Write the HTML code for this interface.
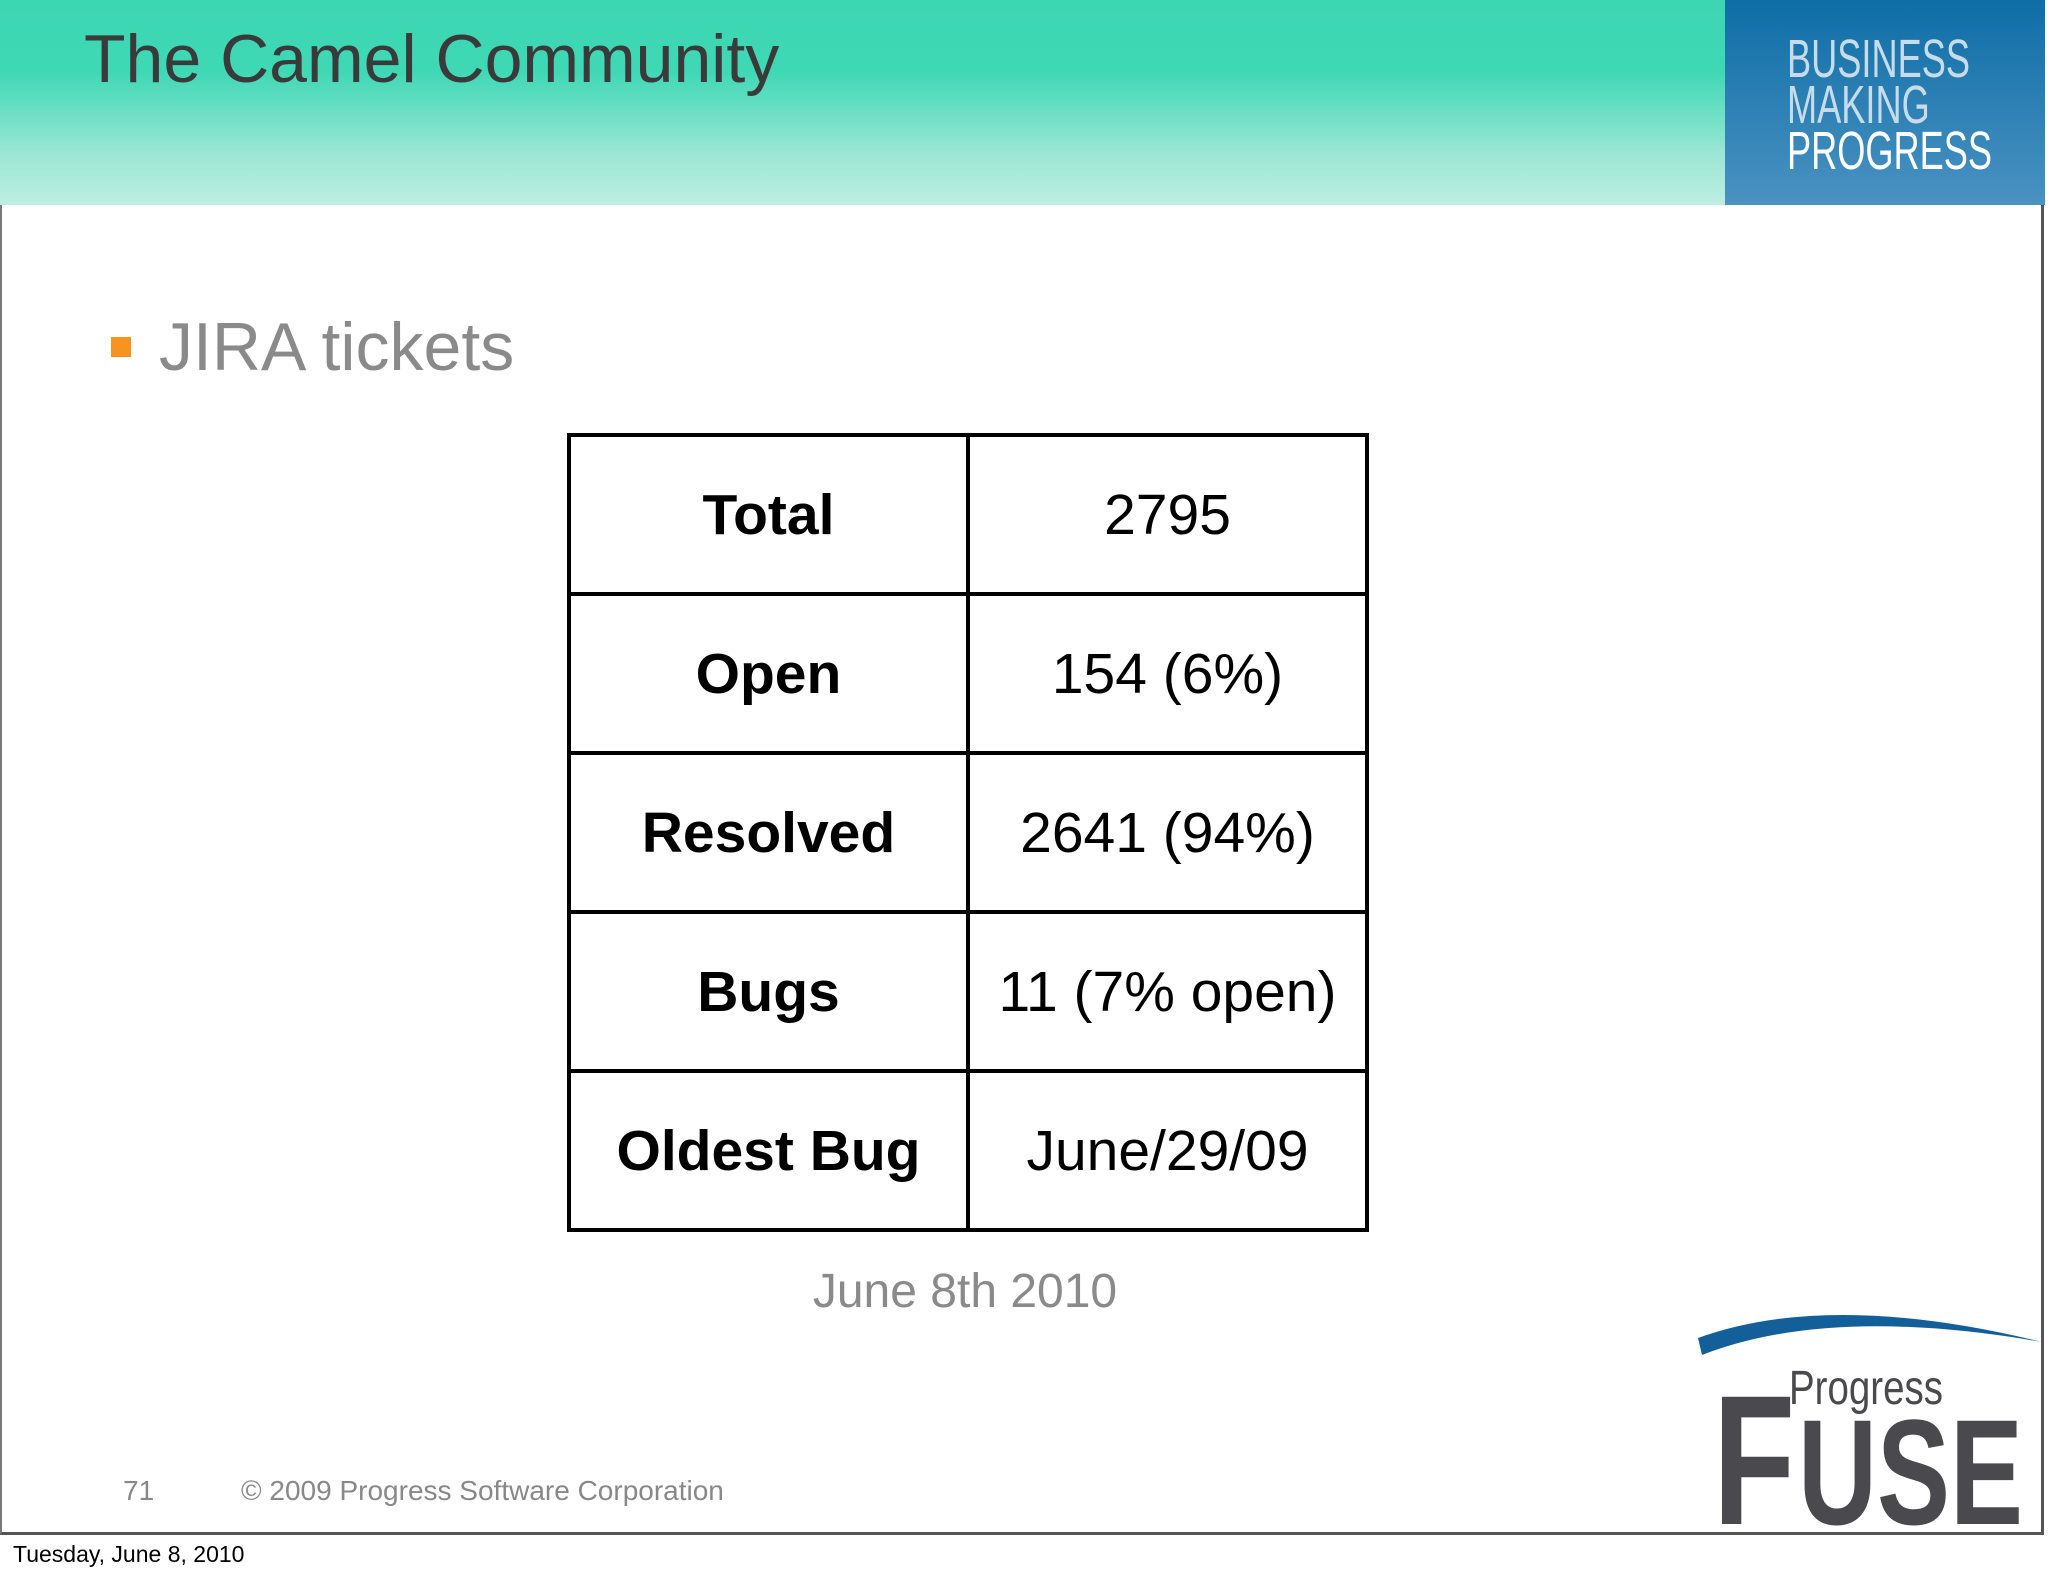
<!DOCTYPE html>
<html><head><meta charset="utf-8"><style>
body{margin:0;width:2048px;height:1576px;background:#fff;position:relative;overflow:hidden;font-family:"Liberation Sans",Arial,sans-serif}
.abs{position:absolute}
#slide{left:0;top:0;width:2044px;height:1535px;border-right:3px solid #555;border-bottom:3px solid #555;border-left:2px solid #777;box-sizing:border-box}
#band{left:0;top:0;width:1725px;height:205px;background:linear-gradient(#3dd6b3 0%,#3fd8b5 35%,#9ce6d4 75%,#bdeee2 100%)}
#blue{left:1725px;top:0;width:320px;height:205px;background:linear-gradient(#0e6ea6,#4a92c2)}
table{border-collapse:collapse;position:absolute;left:567px;top:433px;width:802px}
td{border:4px solid #000;height:155px;text-align:center;font-size:57px;width:50%;padding:0}
td.l{font-weight:bold}
</style></head><body>
<div class="abs" id="slide"></div>
<div class="abs" id="band"></div>
<div class="abs" id="blue">
 <div class="abs" style="left:62px;top:36px;color:#c7dcea;font-family:'Liberation Sans',sans-serif;font-size:54px;line-height:46px;transform:scaleX(0.67);transform-origin:left">BUSINESS<br>MAKING<br><span style="color:#fff">PROGRESS</span></div>
</div>
<div class="abs" style="left:84px;top:20px;font-size:68px;color:#3a3a3a">The Camel Community</div>
<div class="abs" style="left:111px;top:337px;width:20px;height:20px;background:#f7931e"></div>
<div class="abs" style="left:159px;top:308px;font-size:68px;color:#8a8a8a">JIRA tickets</div>
<table>
<tr><td class="l">Total</td><td>2795</td></tr>
<tr><td class="l">Open</td><td>154 (6%)</td></tr>
<tr><td class="l">Resolved</td><td>2641 (94%)</td></tr>
<tr><td class="l">Bugs</td><td>11 (7% open)</td></tr>
<tr><td class="l">Oldest Bug</td><td>June/29/09</td></tr>
</table>
<div class="abs" style="left:765px;width:400px;text-align:center;top:1264px;font-size:48px;color:#8a8a8a">June 8th 2010</div>
<div class="abs" style="left:123px;top:1475px;font-size:28px;color:#888">71</div>
<div class="abs" style="left:241px;top:1475px;font-size:28px;color:#888">© 2009 Progress Software Corporation</div>
<div class="abs" style="left:13px;top:1541px;font-size:23px;color:#000">Tuesday, June 8, 2010</div>
<svg class="abs" style="left:1680px;top:1300px" width="368" height="240">
<path d="M18 38 Q150 -10 362 42 Q150 5 22 55 Z" fill="#135f9a"/>
<text x="109" y="104" font-family="Liberation Sans,sans-serif" font-size="48" fill="#4a4a4e" textLength="154" lengthAdjust="spacingAndGlyphs">Progress</text>
<text x="33" y="224" font-family="Liberation Sans,sans-serif" font-weight="bold" font-size="185" fill="#4a4a4e" textLength="82" lengthAdjust="spacingAndGlyphs">F</text>
<text x="118" y="224" font-family="Liberation Sans,sans-serif" font-weight="bold" font-size="150" fill="#4a4a4e" textLength="225" lengthAdjust="spacingAndGlyphs">USE</text>
</svg>
</body></html>
